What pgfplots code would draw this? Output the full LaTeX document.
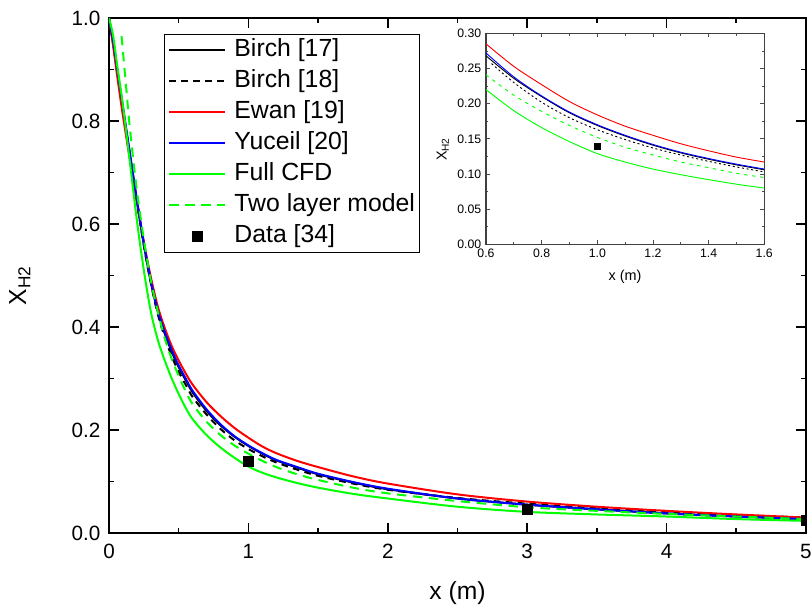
\documentclass[border=0pt]{standalone}
\usepackage{fontspec}
\setmainfont{Liberation Sans}
\usepackage{pgfplots}
\pgfplotsset{compat=1.18}

\definecolor{cred}{RGB}{255,0,0}
\definecolor{cblue}{RGB}{0,0,255}
\definecolor{cgreen}{RGB}{0,255,0}

\pgfplotsset{
    linelegend/.style={legend image code/.code={\draw[##1] (0pt,0pt) -- (42pt,0pt);}},
    marklegend/.style={legend image code/.code={\draw[mark repeat=2,mark phase=2,##1] plot coordinates {(0pt,0pt) (21pt,0pt) (42pt,0pt)};}},
}

\begin{document}
\begin{tikzpicture}
\useasboundingbox (-81.75pt,-57.75pt) rectangle (526.5pt,399.75pt);
% main axis
\begin{axis}[
    at={(0pt,0pt)}, anchor=south west,
    scale only axis,
    width=522.75pt, height=386.25pt,
    xmin=0, xmax=5, ymin=0, ymax=1,
    xtick={0,1,2,3,4,5},
    ytick={0,0.2,0.4,0.6,0.8,1.0},
    minor x tick num=1, minor y tick num=1,
    tick align=inside,
    major tick length=7.5pt, minor tick length=4pt,
    tick style={line width=1.2pt, black},
    axis line style={line width=1.4pt},
    clip marker paths=true,
    /pgf/number format/assume math mode=true,
    ticklabel style={font=\fontsize{15.5}{18}\selectfont},
    yticklabel style={xshift=-3pt, /pgf/number format/.cd, fixed, fixed zerofill, precision=1},
    xticklabel style={yshift=-5pt, /pgf/number format/.cd, fixed, precision=0},
    xlabel={x (m)},
    ylabel={X\textsubscript{H2}},
    every axis x label/.style={at={(axis description cs:0.5,-0.117)}, anchor=center,
        font=\fontsize{18.5}{22}\selectfont},
    every axis y label/.style={at={(axis description cs:-0.128,0.48)}, anchor=center, rotate=90,
        font=\fontsize{18.5}{22}\selectfont},
    linelegend,
    legend style={at={(0.079,0.969)}, anchor=north west, draw=black, line width=0.6pt,
        inner sep=3pt, column sep=6pt, row sep=5.25pt,
        font=\fontsize{18.6}{22}\selectfont,
        nodes={inner sep=0pt, text height=13.5pt, text depth=4.5pt}},
    legend cell align=left,
]
\addplot[black, line width=1.5pt, smooth] coordinates {
(0,1.000) (0.03,0.950) (0.06,0.895) (0.1,0.822) (0.15,0.733) (0.2,0.644) (0.25,0.560)
(0.3,0.487) (0.35,0.430) (0.4,0.387) (0.45,0.352) (0.5,0.322) (0.55,0.297) (0.6,0.273)
(0.7,0.237) (0.8,0.209) (0.9,0.187) (1.0,0.169) (1.1,0.154) (1.2,0.141) (1.35,0.127)
(1.5,0.114) (1.75,0.098) (2.0,0.085) (2.5,0.067) (3.0,0.055) (3.5,0.046) (4.0,0.038)
(4.5,0.032) (5.0,0.027)};
\addlegendentry{Birch [17]}
\addplot[black, line width=1.5pt, smooth, dash pattern=on 5pt off 4pt] coordinates {
(0,1.000) (0.03,0.950) (0.06,0.895) (0.1,0.822) (0.15,0.733) (0.2,0.643) (0.25,0.558)
(0.3,0.485) (0.35,0.425) (0.4,0.380) (0.45,0.343) (0.5,0.313) (0.55,0.288) (0.6,0.264)
(0.7,0.230) (0.8,0.202) (0.9,0.180) (1.0,0.163) (1.1,0.149) (1.2,0.137) (1.35,0.123)
(1.5,0.111) (1.75,0.096) (2.0,0.084) (2.5,0.068) (3.0,0.057) (3.5,0.048) (4.0,0.041)
(4.5,0.035) (5.0,0.030)};
\addlegendentry{Birch [18]}
\addplot[cred, line width=1.5pt, smooth] coordinates {
(0,1.000) (0.03,0.945) (0.06,0.885) (0.1,0.810) (0.15,0.725) (0.2,0.645) (0.25,0.565)
(0.3,0.497) (0.35,0.440) (0.4,0.398) (0.45,0.363) (0.5,0.335) (0.55,0.310) (0.6,0.288)
(0.7,0.254) (0.8,0.227) (0.9,0.204) (1.0,0.185) (1.1,0.168) (1.2,0.155) (1.35,0.140)
(1.5,0.128) (1.75,0.110) (2.0,0.096) (2.5,0.075) (3.0,0.061) (3.5,0.051) (4.0,0.043)
(4.5,0.036) (5.0,0.030)};
\addlegendentry{Ewan [19]}
\addplot[cblue, line width=1.5pt, smooth] coordinates {
(0,1.000) (0.03,0.955) (0.06,0.900) (0.1,0.828) (0.15,0.738) (0.2,0.648) (0.25,0.563)
(0.3,0.490) (0.35,0.432) (0.4,0.390) (0.45,0.355) (0.5,0.325) (0.55,0.300) (0.6,0.276)
(0.7,0.240) (0.8,0.211) (0.9,0.188) (1.0,0.170) (1.1,0.155) (1.2,0.142) (1.35,0.128)
(1.5,0.115) (1.75,0.099) (2.0,0.086) (2.5,0.067) (3.0,0.055) (3.5,0.046) (4.0,0.038)
(4.5,0.032) (5.0,0.027)};
\addlegendentry{Yuceil [20]}
\addplot[cgreen, line width=1.5pt, smooth] coordinates {
(0,1.000) (0.03,0.965) (0.06,0.905) (0.1,0.830) (0.15,0.720) (0.2,0.607) (0.25,0.510)
(0.3,0.430) (0.35,0.375) (0.4,0.335) (0.45,0.300) (0.5,0.270) (0.55,0.243) (0.6,0.221)
(0.7,0.190) (0.8,0.166) (0.9,0.146) (1.0,0.129) (1.1,0.117) (1.2,0.108) (1.35,0.097)
(1.5,0.088) (1.75,0.076) (2.0,0.067) (2.5,0.051) (3.0,0.041) (3.5,0.036) (4.0,0.032)
(4.5,0.027) (5.0,0.0235)};
\addlegendentry{Full CFD}
\addplot[cgreen, line width=1.5pt, smooth, dash pattern=on 7pt off 5pt] coordinates {
(0.09,0.965) (0.1,0.935) (0.125,0.860) (0.15,0.785) (0.2,0.665) (0.25,0.570)
(0.3,0.490) (0.35,0.430) (0.4,0.378) (0.45,0.338) (0.5,0.305) (0.55,0.275) (0.6,0.250)
(0.7,0.216) (0.8,0.190) (0.9,0.170) (1.0,0.154) (1.1,0.140) (1.2,0.128) (1.35,0.114)
(1.5,0.103) (1.75,0.088) (2.0,0.077) (2.5,0.062) (3.0,0.050) (3.5,0.043) (4.0,0.037)
(4.5,0.032) (5.0,0.027)};
\addlegendentry{Two layer model}
\addplot[only marks, mark=square*, mark size=3.75pt, black, marklegend]
    coordinates {(1,0.140) (3,0.047) (5,0.025)};
\addlegendentry{Data [34]}
\end{axis}
% inset
\begin{axis}[
    at={(282.75pt,216.5pt)}, anchor=south west,
    scale only axis,
    width=208.7pt, height=158.25pt,
    axis background/.style={fill=white},
    xmin=0.6, xmax=1.6, ymin=0, ymax=0.30,
    xtick={0.6,0.8,1.0,1.2,1.4,1.6},
    ytick={0,0.05,0.10,0.15,0.20,0.25,0.30},
    minor x tick num=1, minor y tick num=1,
    tick align=inside,
    major tick length=3pt, minor tick length=1.8pt,
    tick style={line width=0.6pt, black!70},
    axis line style={line width=0.8pt, black!75},
    /pgf/number format/assume math mode=true,
    ticklabel style={font=\fontsize{9.2}{11}\selectfont},
    yticklabel style={/pgf/number format/.cd, fixed, fixed zerofill, precision=2},
    xticklabel style={/pgf/number format/.cd, fixed, fixed zerofill, precision=1},
    xlabel={x (m)},
    ylabel={X\textsubscript{H2}},
    every axis x label/.style={at={(axis description cs:0.5,-0.156)}, anchor=center,
        font=\fontsize{10.8}{13}\selectfont},
    every axis y label/.style={at={(axis description cs:-0.155,0.45)}, anchor=center, rotate=90,
        font=\fontsize{10.8}{13}\selectfont},
]
\addplot[black, line width=0.7pt, smooth] coordinates {
(0.6,0.268) (0.7,0.236) (0.8,0.210) (0.9,0.187) (1.0,0.169) (1.1,0.154)
(1.2,0.141) (1.3,0.130) (1.4,0.121) (1.5,0.113) (1.6,0.106)};
\addplot[black, line width=0.7pt, smooth, dash pattern=on 1.5pt off 2pt] coordinates {
(0.62,0.257) (0.7,0.230) (0.8,0.202) (0.9,0.180) (1.0,0.163) (1.1,0.149)
(1.2,0.137) (1.3,0.127) (1.4,0.118) (1.5,0.110) (1.6,0.103)};
\addplot[cred, line width=0.7pt, smooth] coordinates {
(0.6,0.285) (0.7,0.253) (0.8,0.227) (0.9,0.203) (1.0,0.184) (1.1,0.168)
(1.2,0.155) (1.3,0.143) (1.4,0.133) (1.5,0.124) (1.6,0.117)};
\addplot[cblue, line width=0.7pt, smooth] coordinates {
(0.6,0.272) (0.7,0.238) (0.8,0.211) (0.9,0.188) (1.0,0.170) (1.1,0.155)
(1.2,0.142) (1.3,0.131) (1.4,0.122) (1.5,0.114) (1.6,0.107)};
\addplot[cgreen, line width=0.7pt, smooth] coordinates {
(0.6,0.220) (0.7,0.190) (0.8,0.166) (0.9,0.146) (1.0,0.129) (1.1,0.117)
(1.2,0.107) (1.3,0.099) (1.4,0.092) (1.5,0.0855) (1.6,0.080)};
\addplot[cgreen, line width=0.7pt, smooth, dash pattern=on 2.5pt off 3.5pt] coordinates {
(0.6,0.241) (0.7,0.212) (0.8,0.189) (0.9,0.169) (1.0,0.152) (1.1,0.138)
(1.2,0.127) (1.3,0.117) (1.4,0.109) (1.5,0.101) (1.6,0.095)};
\addplot[only marks, mark=square*, mark size=2.2pt, black] coordinates {(1.0,0.140)};
\end{axis}
\end{tikzpicture}
\end{document}
